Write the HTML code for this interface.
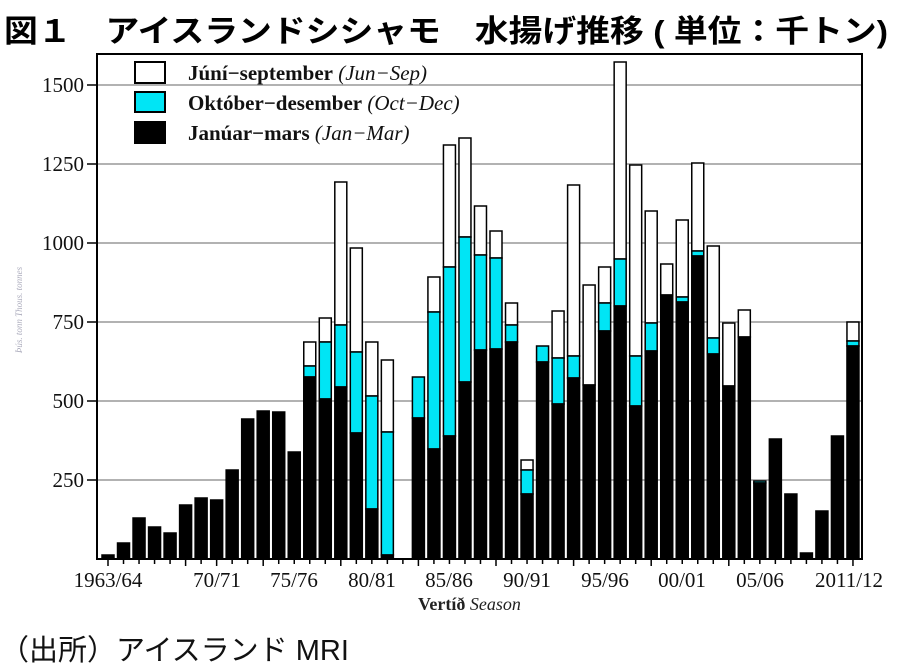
<!DOCTYPE html>
<html><head><meta charset="utf-8">
<style>
html,body{margin:0;padding:0;background:#fff;width:900px;height:670px;overflow:hidden}
svg{display:block}
.t{font-family:"Liberation Serif",serif}
</style></head><body>
<svg id="s" width="900" height="670" xmlns="http://www.w3.org/2000/svg">
<text x="4" y="42" font-family="'Liberation Sans','Noto Sans CJK JP',sans-serif" font-weight="bold" font-size="31" fill="#000" textLength="884" lengthAdjust="spacingAndGlyphs">図１　アイスランドシシャモ　水揚げ推移 ( 単位：千トン)</text>
<g stroke="#999" stroke-width="1.5">
<line x1="97" x2="862" y1="480" y2="480"/><line x1="97" x2="862" y1="401" y2="401"/>
<line x1="97" x2="862" y1="322" y2="322"/><line x1="97" x2="862" y1="243" y2="243"/>
<line x1="97" x2="862" y1="164" y2="164"/><line x1="97" x2="862" y1="85" y2="85"/>
</g>
<g id="bars"></g>
<g id="ticks" stroke="#000" stroke-width="1.5"></g>
<rect x="97" y="54" width="765" height="505" fill="none" stroke="#000" stroke-width="2"/>
<g class="t" font-size="21" fill="#111" text-anchor="end">
<text x="84" y="487">250</text><text x="84" y="408">500</text><text x="84" y="329">750</text>
<text x="84" y="250">1000</text><text x="84" y="171">1250</text><text x="84" y="92">1500</text>
</g>
<g stroke="#000" stroke-width="1.5">
<line x1="87" x2="97" y1="480" y2="480"/><line x1="87" x2="97" y1="401" y2="401"/><line x1="87" x2="97" y1="322" y2="322"/>
<line x1="87" x2="97" y1="243" y2="243"/><line x1="87" x2="97" y1="164" y2="164"/><line x1="87" x2="97" y1="85" y2="85"/>
</g>
<text x="22" y="310" transform="rotate(-90 22 310)" text-anchor="middle" class="t" font-size="9" fill="#aab" font-style="italic">Þús. tonn   Thous. tonnes</text>
<g class="t" font-size="21" fill="#111" text-anchor="middle">
<text x="108" y="587">1963/64</text><text x="217" y="587">70/71</text><text x="294" y="587">75/76</text>
<text x="372" y="587">80/81</text><text x="449" y="587">85/86</text><text x="527" y="587">90/91</text>
<text x="605" y="587">95/96</text><text x="682" y="587">00/01</text><text x="760" y="587">05/06</text>
<text x="849" y="587">2011/12</text>
</g>
<text x="418" y="610" class="t" font-size="18" fill="#222"><tspan font-weight="bold">Vertíð</tspan>  <tspan font-style="italic">Season</tspan></text>
<g stroke="#000" stroke-width="2">
<rect x="135" y="62" width="30" height="21" fill="#fff"/>
<rect x="135" y="92" width="30" height="20" fill="#00e5f5"/>
<rect x="135" y="122" width="30" height="21" fill="#000"/>
</g>
<g class="t" font-size="21" fill="#111">
<text x="188" y="80"><tspan font-weight="bold">Júní−september</tspan> <tspan font-style="italic">(Jun−Sep)</tspan></text>
<text x="188" y="110"><tspan font-weight="bold">Október−desember</tspan> <tspan font-style="italic">(Oct−Dec)</tspan></text>
<text x="188" y="140"><tspan font-weight="bold">Janúar−mars</tspan> <tspan font-style="italic">(Jan−Mar)</tspan></text>
</g>
<text x="0" y="660" font-family="'Liberation Sans','Noto Sans CJK JP',sans-serif" font-size="29" fill="#111">（出所）アイスランド MRI</text>
</svg>
<script>
var d=[[555],[543],[518],[527],[533],[505],[498],[500],[470],[419],[411],[412],[452],
[377,366,342],[399,342,318],[387,325,182],[433,352,248],[509,396,342],[555,432,360],null,
[418,377],[449,312,277],[436,267,145],[382,237,138],[350,255,206],[349,258,231],[342,325,303],
[494,470,460],[362,346],[404,358,311],[378,356,185],[385,385,285],[331,303,267],[306,259,62],
[406,356,165],[351,323,211],[295,295,264],[302,297,220],[256,251,163],[354,338,246],[386,386,323],
[337,337,310],[483,481],[439],[494],[553],[511],[436],[346,341,322]];
var NS="http://www.w3.org/2000/svg",g=document.getElementById("bars"),tk=document.getElementById("ticks");
function r(x,y,w,h,f){var e=document.createElementNS(NS,"rect");e.setAttribute("x",x);e.setAttribute("y",y);e.setAttribute("width",w);e.setAttribute("height",Math.max(h,0));e.setAttribute("fill",f);e.setAttribute("stroke","#000");e.setAttribute("stroke-width","1.5");g.appendChild(e);}
for(var i=0;i<49;i++){var cx=108+15.52*i;
var l=document.createElementNS(NS,"line");l.setAttribute("x1",cx);l.setAttribute("x2",cx);l.setAttribute("y1",559);l.setAttribute("y2",(i%5==0&&i!=45)||i==7||i==48?566:564);tk.appendChild(l);
var v=d[i];if(!v)continue;var x=cx-6,w=12;
if(v.length>2&&v[2]<v[1])r(x,v[2],w,v[1]-v[2],"#fff");
if(v.length>1&&v[1]<v[0])r(x,v[1],w,v[0]-v[1],"#00e5f5");
r(x,v[0],w,559-v[0],"#000");}
</script>
</body></html>
